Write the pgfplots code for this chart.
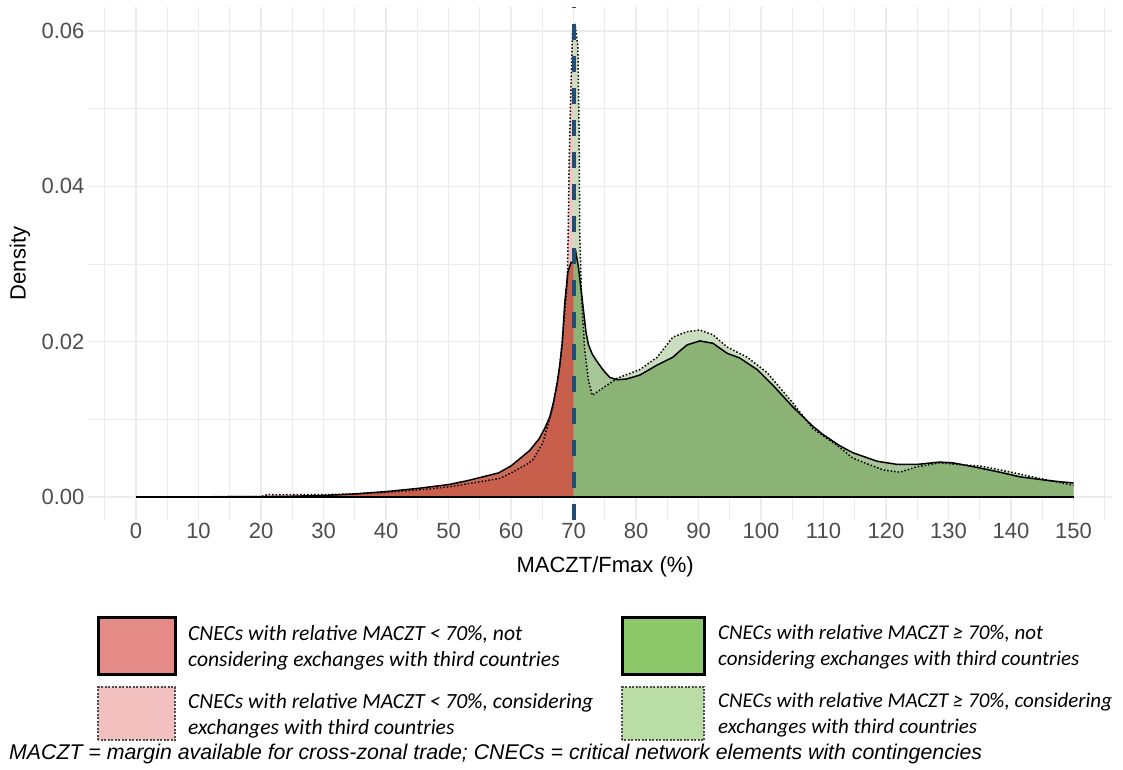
\documentclass[border=0pt]{standalone}
\usepackage{pgfplots}
\usepackage{pgfplotstable}
\pgfplotsset{compat=1.18}
\usepackage{fontspec}
\setmainfont{Liberation Sans}
\newfontfamily\legfont{Carlito}

\definecolor{tickgray}{HTML}{4D4D4D}
\definecolor{gridgray}{HTML}{EBEBEB}
\definecolor{pinkfill}{RGB}{242,198,194}
\definecolor{lgreenfill}{RGB}{202,221,191}
\definecolor{redfill}{RGB}{190,70,47}
\definecolor{greenfill}{RGB}{62,128,28}
\definecolor{vline}{RGB}{31,78,121}
\definecolor{legred}{RGB}{229,139,135}
\definecolor{leggreen}{RGB}{140,200,106}
\definecolor{legpink}{RGB}{241,192,191}
\definecolor{leglgreen}{RGB}{186,221,166}

% density, MACZT < 70%, not considering third countries
\pgfplotstableread{
x y
0 0.00001
10 0.00002
20 0.00005
25 0.0001
30 0.0002
35 0.0004
40 0.0007
45 0.0011
50 0.0016
53 0.0021
56 0.0027
58 0.0031
60 0.0040
61.5 0.0050
63 0.0060
64.5 0.0075
65.5 0.0090
66.2 0.0103
66.8 0.0122
67.4 0.0147
67.8 0.0170
68.2 0.0198
68.6 0.0250
69.1 0.0290
69.6 0.0302
70 0.0302
}\redsolid

% density, MACZT < 70%, considering third countries
\pgfplotstableread{
x y
0 0.00001
20 0.00005
21 0.0003
30 0.0003
35 0.0004
40 0.0006
45 0.0009
50 0.0013
53 0.0017
56 0.0021
58.2 0.0024
60 0.0031
62.5 0.0042
63.5 0.0048
65.1 0.0070
66.7 0.0116
67.8 0.0167
68.3 0.0211
69 0.0276
69.15 0.0340
69.3 0.0430
69.5 0.0500
69.7 0.0560
69.85 0.0600
70 0.0605
}\reddotted

% density, MACZT >= 70%, not considering third countries
\pgfplotstableread{
x y
70 0.0302
70.4 0.0314
70.8 0.0295
71.2 0.0268
71.6 0.0240
72 0.0212
72.4 0.0196
73 0.0184
73.8 0.0174
74.8 0.0163
75.8 0.0154
77 0.0151
78.5 0.0152
80.6 0.0157
83.4 0.0170
85.9 0.0180
87 0.0188
88.2 0.0196
90.2 0.0201
92.3 0.0198
94.6 0.0185
96.6 0.0179
99.4 0.0164
101.9 0.0144
105.1 0.0116
108.3 0.0091
110 0.0080
112.6 0.0066
114.7 0.0057
118.6 0.0046
121.8 0.0042
125 0.0042
128.6 0.0045
130.7 0.0044
134 0.0039
138.2 0.0032
141.4 0.0026
146.2 0.0021
150 0.0018
}\greensolid

% density, MACZT >= 70%, considering third countries
\pgfplotstableread{
x y
70 0.0595
70.3 0.0605
70.7 0.0580
70.9 0.0469
71 0.0340
71.3 0.0254
71.8 0.0189
72.4 0.0150
73 0.0131
75 0.0142
77 0.0153
80.6 0.0164
83.4 0.0180
85.9 0.0206
88.2 0.0213
90.2 0.0215
92.3 0.0209
94.6 0.0193
97.8 0.0180
101 0.0160
105.1 0.0121
108.3 0.0088
112.6 0.0064
114.7 0.0050
119.5 0.0035
122.2 0.0032
125 0.0039
128.6 0.0044
131.4 0.0042
135 0.0040
138.2 0.0035
144.6 0.0024
150 0.0015
}\greendotted

\begin{document}
\begin{tikzpicture}[x=1pt,y=1pt]
\useasboundingbox (0,0) rectangle (1123,769);
\begin{axis}[
  at={(88pt,249pt)}, anchor=south west,
  scale only axis, width=1024pt, height=513pt,
  xmin=-7.68, xmax=156.16, ymin=-0.00296, ymax=0.0631,
  axis line style={draw=none},
  major tick length=0pt, minor tick length=0pt,
  xtick={0,10,...,150}, minor xtick={-5,5,...,155},
  ytick={0,0.02,0.04,0.06}, minor ytick={0.01,0.03,0.05},
  yticklabels={0.00,0.02,0.04,0.06},
  scaled y ticks=false,
  /pgf/number format/assume math mode=true,
  grid=both,
  major grid style={gridgray, line width=1.2pt},
  minor grid style={gridgray, line width=0.9pt},
  tick label style={font=\fontsize{22}{26}\selectfont, text=tickgray},
  xlabel={MACZT/Fmax (\%)},
  ylabel={Density},
  every axis x label/.style={at={(axis description cs:0.505,-0.0916)}, anchor=center, font=\fontsize{22}{26}\selectfont},
  every axis y label/.style={at={(axis description cs:-0.0664,0.5)}, rotate=90, anchor=center, font=\fontsize{22}{26}\selectfont},
]
\addplot[draw=none, fill=pinkfill] table {\reddotted} \closedcycle;
\addplot[draw=none, fill=lgreenfill] table {\greendotted} \closedcycle;
\addplot[draw=none, fill=redfill, fill opacity=0.8] table {\redsolid} \closedcycle;
\addplot[draw=none, fill=greenfill, fill opacity=0.45] table {\greensolid} \closedcycle;
\addplot[black, line width=1.5pt, dash pattern=on 1.5pt off 2pt] table {\reddotted};
\addplot[black, line width=1.5pt, dash pattern=on 1.5pt off 2pt] table {\greendotted};
\addplot[black, line width=1.5pt] table {\redsolid};
\addplot[black, line width=1.5pt] table {\greensolid};
\addplot[black, line width=1.5pt] coordinates {(0,0) (150,0)};
\addplot[vline, line width=4pt, dash pattern=on 16pt off 16pt] coordinates {(70,-0.00296) (70,0.0631)};
\end{axis}

% legend
\draw[line width=3pt, fill=legred] (98,95) rectangle (175,152);
\draw[line width=3pt, fill=leggreen] (622,95) rectangle (704,152);
\draw[line width=1.2pt, black!70, dash pattern=on 2pt off 1.5pt, fill=legpink] (98,29) rectangle (175,82);
\draw[line width=1.2pt, black!70, dash pattern=on 2pt off 1.5pt, fill=leglgreen] (622,29) rectangle (704,82);
\begin{scope}[every node/.style={anchor=west, align=left, inner sep=0pt, font=\legfont\itshape\fontsize{21.6}{26}\selectfont}]
\node at (188,121.5) {CNECs with relative MACZT < 70\%, not\\considering exchanges with third countries};
\node at (188,53.5) {CNECs with relative MACZT < 70\%, considering\\exchanges with third countries};
\end{scope}
\begin{scope}[every node/.style={anchor=west, align=left, inner sep=0pt, font=\legfont\itshape\fontsize{21}{26}\selectfont}]
\node at (718,121.5) {CNECs with relative MACZT ≥ 70\%, not\\considering exchanges with third countries};
\node at (718,53.5) {CNECs with relative MACZT ≥ 70\%, considering\\exchanges with third countries};
\end{scope}
\node[anchor=west, inner sep=0pt, font=\itshape\fontsize{21.3}{24}\selectfont] at (9,15) {MACZT = margin available for cross-zonal trade; CNECs = critical network elements with contingencies};
\end{tikzpicture}
\end{document}
